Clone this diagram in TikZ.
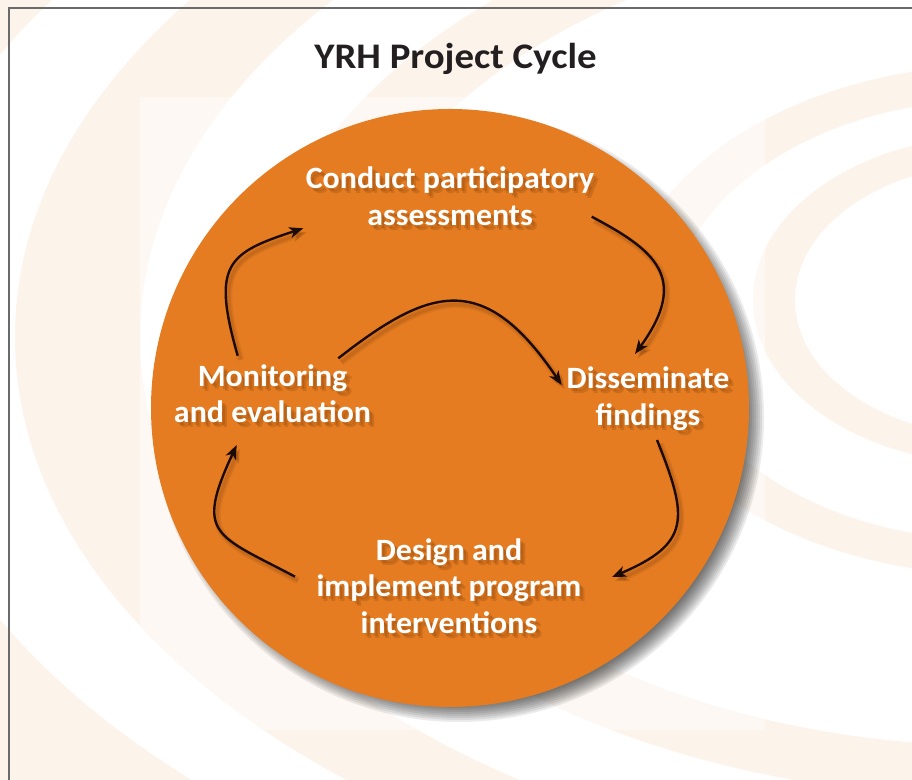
\documentclass[tikz,border=0pt]{standalone}
\usepackage{fontspec}
\setmainfont{Carlito}
\newfontfamily\stagefont[FakeStretch=1.03]{Carlito}
\newfontfamily\titlefont[FakeStretch=1.08]{Carlito}
\usetikzlibrary{arrows.meta}

\definecolor{cycleorange}{HTML}{E57C21}
\definecolor{swirl}{HTML}{FCF3EB}
\definecolor{arrowink}{HTML}{1C0B04}
\definecolor{titleink}{HTML}{231F20}
\definecolor{framegray}{HTML}{6A6A6A}
\definecolor{textshade}{HTML}{6B3206}

% white stage label with a soft brown shadow under it
\newcommand\stagenode[3]{%
  \foreach \sx/\sy [count=\n] in {3/-3,5/-5}
    \node[stage, shift={(\sx,\sy)}, text=textshade, text opacity=.2] (#1-shade\n) at (#2) {#3};
  \node[stage] (#1) at (#2) {#3};}

\begin{document}
\begin{tikzpicture}[x=1bp,y=1bp,
  stage/.style={align=center, text=white, inner sep=0pt,
    font=\stagefont\fontsize{31bp}{36.3bp}\selectfont\bfseries},
  title/.style={anchor=base, text=titleink, inner sep=0pt,
    font=\titlefont\fontsize{36bp}{40bp}\selectfont\bfseries},
  cyclearrow/.style={line width=2.4bp, draw=arrowink,
    -{Stealth[length=14bp,width=11bp,inset=4bp]},
    preaction={draw=textshade, line width=7bp, opacity=.10, transform canvas={shift={(3bp,-4bp)}}},
    preaction={draw=textshade, line width=3.5bp, opacity=.16, transform canvas={shift={(3bp,-4bp)}}}}]
  \useasboundingbox (0,0) rectangle (912,780);

  % faint swirl rings in the background
  \begin{scope}
    \clip (0,0) rectangle (912,780);
    \fill[swirl, even odd rule] (1000,480) ellipse [x radius=247, y radius=165]
      (1000,480) ellipse [x radius=205, y radius=137];
    \fill[swirl, even odd rule] (1000,460) ellipse [x radius=380, y radius=255]
      (1000,460) ellipse [x radius=330, y radius=221];
    \fill[swirl, even odd rule] (1000,443) ellipse [x radius=743, y radius=461]
      (1000,443) ellipse [x radius=659, y radius=409];
    \fill[swirl, even odd rule] (1000,443) ellipse [x radius=985, y radius=592]
      (1000,443) ellipse [x radius=860, y radius=534];
    \fill[swirl, even odd rule] (1000,443) ellipse [x radius=1500, y radius=1000]
      (1000,443) ellipse [x radius=1112, y radius=645];
    \fill[white, opacity=.45] (140,50) rectangle (765,683);
  \end{scope}
  \draw[framegray, line width=1.2] (9,0) -- (9,772) -- (912,772);

  \node[title] (title) at (455.5,711) {YRH Project Cycle};

  % disc with its blurred drop shadow
  \foreach \k in {0,...,11}
    \fill[black, opacity=.08] (459,363) circle ({305-2*\k});
  \fill[cycleorange] (450,372) circle (299);

  \stagenode{assess}{450,583.7}{Conduct participatory\\assessments}
  \stagenode{dissem}{648,381.1}{Disseminate\\findings}
  \stagenode{design}{449,194}{Design and\\implement program\\interventions}
  \stagenode{monitor}{272.5,386.6}{Monitoring\\and evaluation}

  \draw[cyclearrow] ([shift={(141.7,-20.4)}]assess.center) .. controls +(-28:70) and +(54:95) .. ([shift={(-13,44.9)}]dissem.center);
  \draw[cyclearrow] ([shift={(9,-41.1)}]dissem.center) .. controls +(-68:85) and +(23:85) .. ([shift={(163,9)}]design.center);
  \draw[cyclearrow] ([shift={(-154,9.3)}]design.center) .. controls +(152:90) and +(-115:100) .. ([shift={(-35.8,-51.6)}]monitor.center);
  \draw[cyclearrow] ([shift={(-34.8,37.7)}]monitor.center) .. controls +(106:95) and +(-162:80) .. ([shift={(-146.7,-32)}]assess.center);
  \draw[cyclearrow] ([shift={(65.8,35.1)}]monitor.center) .. controls +(38:115) and +(124:140) .. ([shift={(-86.3,13.9)}]dissem.center);
\end{tikzpicture}
\end{document}
